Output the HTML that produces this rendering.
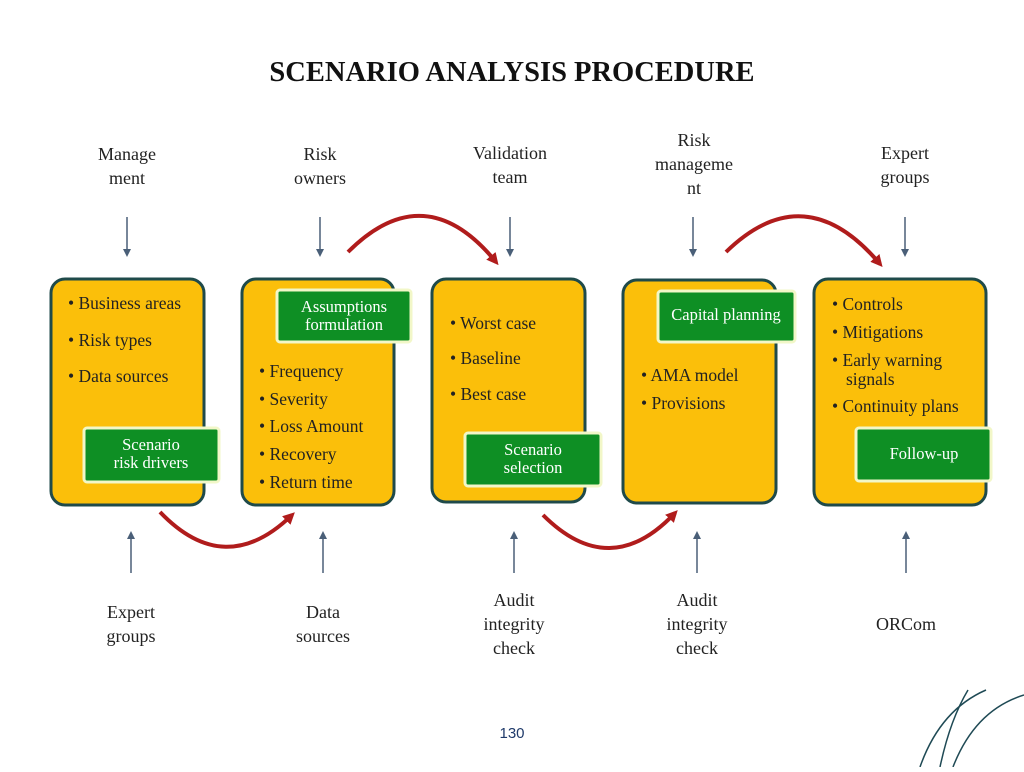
<!DOCTYPE html>
<html><head><meta charset="utf-8"><style>
body{margin:0;background:#fff}
svg text{font-family:"Liberation Serif",serif;fill:#222}
</style></head><body>
<svg width="1024" height="767" viewBox="0 0 1024 767" xmlns="http://www.w3.org/2000/svg">
<defs>
<marker id="a" markerWidth="8" markerHeight="8" refX="6" refY="4" orient="auto" markerUnits="userSpaceOnUse"><path d="M0,0 L8,4 L0,8 z" fill="#4a5f78"/></marker>
<marker id="r" markerWidth="12" markerHeight="12" refX="8" refY="6" orient="auto" markerUnits="userSpaceOnUse"><path d="M0,0 L12,6 L0,12 z" fill="#b01c1c"/></marker>
</defs>
<text x="512" y="81" text-anchor="middle" font-size="28.5" font-weight="bold" style="fill:#111">SCENARIO ANALYSIS PROCEDURE</text>
<g font-size="18" text-anchor="middle">
<text x="127" y="160">Manage</text><text x="127" y="184">ment</text>
<text x="320" y="160">Risk</text><text x="320" y="184">owners</text>
<text x="510" y="159">Validation</text><text x="510" y="183">team</text>
<text x="694" y="146">Risk</text><text x="694" y="170">manageme</text><text x="694" y="194">nt</text>
<text x="905" y="159">Expert</text><text x="905" y="183">groups</text>
<text x="131" y="618">Expert</text><text x="131" y="642">groups</text>
<text x="323" y="618">Data</text><text x="323" y="642">sources</text>
<text x="514" y="606">Audit</text><text x="514" y="630">integrity</text><text x="514" y="654">check</text>
<text x="697" y="606">Audit</text><text x="697" y="630">integrity</text><text x="697" y="654">check</text>
<text x="906" y="630">ORCom</text>
</g>
<g stroke="#4a5f78" stroke-width="1.5" marker-end="url(#a)">
<line x1="127" y1="217" x2="127" y2="255"/><line x1="320" y1="217" x2="320" y2="255"/>
<line x1="510" y1="217" x2="510" y2="255"/><line x1="693" y1="217" x2="693" y2="255"/>
<line x1="905" y1="217" x2="905" y2="255"/>
<line x1="131" y1="573" x2="131" y2="533"/><line x1="323" y1="573" x2="323" y2="533"/>
<line x1="514" y1="573" x2="514" y2="533"/><line x1="697" y1="573" x2="697" y2="533"/>
<line x1="906" y1="573" x2="906" y2="533"/>
</g>
<g fill="#fbbf0a" stroke="#1f4a4a" stroke-width="3">
<rect x="51" y="279" width="153" height="226" rx="14"/>
<rect x="242" y="279" width="152" height="226" rx="14"/>
<rect x="432" y="279" width="153" height="223" rx="14"/>
<rect x="623" y="280" width="153" height="223" rx="14"/>
<rect x="814" y="279" width="172" height="226" rx="14"/>
</g>
<g fill="#0e8f24" stroke="#f2f7c8" stroke-width="3">
<rect x="84" y="428" width="135" height="54" rx="3"/>
<rect x="277" y="290" width="134" height="52" rx="3"/>
<rect x="465" y="433" width="136" height="53" rx="3"/>
<rect x="658" y="291" width="137" height="51" rx="3"/>
<rect x="856" y="428" width="135" height="53" rx="3"/>
</g>
<g font-size="16.5" text-anchor="middle">
<text x="151" y="450" style="fill:#fff">Scenario</text><text x="151" y="468" style="fill:#fff">risk drivers</text>
<text x="344" y="312" style="fill:#fff">Assumptions</text><text x="344" y="330" style="fill:#fff">formulation</text>
<text x="533" y="455" style="fill:#fff">Scenario</text><text x="533" y="473" style="fill:#fff">selection</text>
<text x="726" y="320" style="fill:#fff">Capital planning</text>
<text x="924" y="459" style="fill:#fff">Follow-up</text>
</g>
<g font-size="17.5">
<text x="68" y="309">• Business areas</text><text x="68" y="346">• Risk types</text><text x="68" y="382">• Data sources</text>
<text x="259" y="377">• Frequency</text><text x="259" y="405">• Severity</text><text x="259" y="432">• Loss Amount</text><text x="259" y="460">• Recovery</text><text x="259" y="488">• Return time</text>
<text x="450" y="329">• Worst case</text><text x="450" y="364">• Baseline</text><text x="450" y="400">• Best case</text>
<text x="641" y="381">• AMA model</text><text x="641" y="409">• Provisions</text>
<text x="832" y="310">• Controls</text><text x="832" y="338">• Mitigations</text><text x="832" y="366">• Early warning</text><text x="846" y="385">signals</text><text x="832" y="412">• Continuity plans</text>
</g>
<g fill="none" stroke="#b01c1c" stroke-width="4" marker-end="url(#r)">
<path d="M348,252 Q425,175 496,262"/>
<path d="M726,252 Q805,175 880,264"/>
<path d="M160,512 Q225,580 292,515"/>
<path d="M543,515 Q610,582 675,513"/>
</g>
<text x="512" y="738" text-anchor="middle" font-size="15" style="font-family:'Liberation Sans',sans-serif;fill:#1f3a6a">130</text>
<g fill="none" stroke="#1f4a55" stroke-width="1.5">
<path d="M920,767 Q940,710 986,690"/>
<path d="M940,767 Q950,720 968,690"/>
<path d="M953,767 Q975,710 1024,695"/>
</g>
</svg>
</body></html>
